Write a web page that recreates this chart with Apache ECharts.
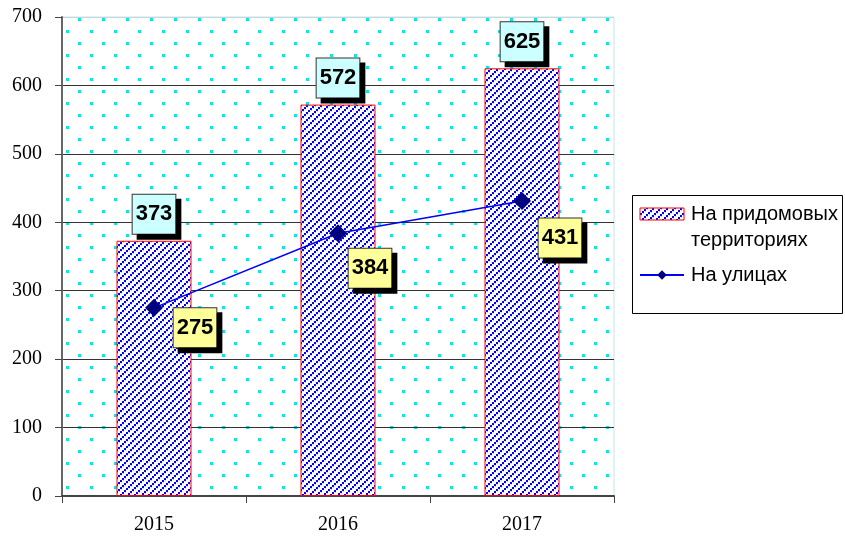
<!DOCTYPE html>
<html>
<head>
<meta charset="utf-8">
<script src="https://cdn.jsdelivr.net/npm/echarts@6/dist/echarts.min.js"></script>
<style>
  html, body { margin: 0; padding: 0; background: #fff; }
  #chart { width: 845px; height: 540px; }
</style>
</head>
<body>
<div id="chart"></div>
<script>
// Years on the horizontal axis
const years = ['2015', '2016', '2017'];
// Count on house-adjacent territories (bars)
const yardValues = [373, 572, 625];
// Count on streets (line)
const streetValues = [275, 384, 431];
// Value axis ticks
const yTicks = [0, 100, 200, 300, 400, 500, 600, 700];

const yardName = 'На придомовых территориях';
const streetName = 'На улицах';

// Dotted cyan fill for the plot area
function makeDotPattern() {
  const c = document.createElement('canvas');
  c.width = 24; c.height = 24;
  const g = c.getContext('2d');
  g.fillStyle = '#fff';
  g.fillRect(0, 0, 24, 24);
  g.fillStyle = '#00E8E8';
  g.fillRect(6, 18, 3, 3);
  g.fillRect(18, 6, 3, 3);
  return { image: c, repeat: 'repeat' };
}

// Blue dotted diagonal hatch for the bars
function makeHatchPattern() {
  const n = 14;
  const c = document.createElement('canvas');
  c.width = n; c.height = n;
  const g = c.getContext('2d');
  g.fillStyle = '#fff';
  g.fillRect(0, 0, n, n);
  for (let s = 0; s <= 2 * n + 7; s += 7) {
    for (let x = 0; x < n; x += 2) {
      const y = s - x - 2;
      if (y > -2 && y < n) {
        g.fillStyle = '#C8C8FF';
        g.fillRect(x + 1, y + 2, 1, 1);
        g.fillStyle = '#0000FF';
        g.fillRect(x, y, 2, 2);
      }
    }
  }
  return { image: c, repeat: 'repeat' };
}

const dots = makeDotPattern();
const hatch = makeHatchPattern();

// Hand-placed offsets of the street-value callouts relative to their points
const streetLabelOffsets = [[41, 20], [32, 35], [38, 37]];

const labelFont = {
  fontFamily: 'Liberation Sans, Arial, sans-serif',
  fontWeight: 'bold',
  fontSize: 22,
  lineHeight: 23,
  color: '#000',
  padding: [8, 3, 8, 3],
  borderColor: '#333',
  borderWidth: 1,
  shadowColor: '#000',
  shadowBlur: 0,
  shadowOffsetX: 5,
  shadowOffsetY: 5
};

const gridLineColors = yTicks.map((t, i) => i === yTicks.length - 1 ? '#C4D6D6' : '#333');

const chart = echarts.init(document.getElementById('chart'), null, { renderer: 'canvas' });

chart.setOption({
  animation: false,
  backgroundColor: '#fff',
  grid: {
    left: 62, top: 17, right: 231, bottom: 44,
    show: true,
    backgroundColor: dots,
    borderColor: '#C4E6E6',
    borderWidth: 1
  },
  graphic: [{
    type: 'rect',
    left: 632, top: 195,
    z: 0,
    shape: { width: 210, height: 118 },
    style: { fill: '#fff', stroke: '#000', lineWidth: 1 }
  }],
  legend: {
    orient: 'vertical',
    left: 639,
    top: 175,
    padding: 0,
    z: 10,
    itemWidth: 44,
    itemHeight: 12,
    itemGap: 9,
    selectedMode: false,
    textStyle: {
      fontFamily: 'Liberation Sans, Arial, sans-serif',
      fontSize: 20,
      lineHeight: 26,
      color: '#000',
      padding: [0, 0, 0, 2]
    },
    data: [
      {
        name: yardName,
        icon: 'rect',
        itemStyle: { color: hatch, borderColor: '#FF0000', borderWidth: 1 }
      },
      { name: streetName }
    ],
    // the first entry wraps onto two lines; a leading blank line keeps
    // its first line level with the swatch
    formatter: function (name) {
      return name === yardName ? ' \nНа придомовых\nтерриториях' : name;
    }
  },
  xAxis: {
    type: 'category',
    data: years,
    boundaryGap: true,
    axisLine: { show: true, lineStyle: { color: '#444', width: 2 } },
    axisTick: { show: true, length: 7, lineStyle: { color: '#444', width: 1 } },
    axisLabel: {
      margin: 19,
      fontFamily: 'Liberation Serif, Times New Roman, serif',
      fontSize: 20,
      color: '#000'
    },
    splitLine: { show: false }
  },
  yAxis: {
    type: 'value',
    min: yTicks[0],
    max: yTicks[yTicks.length - 1],
    interval: 100,
    axisLine: { show: true, lineStyle: { color: '#666', width: 2 } },
    axisTick: { show: true, length: 7, lineStyle: { color: '#444', width: 1 } },
    axisLabel: {
      margin: 20,
      fontFamily: 'Liberation Serif, Times New Roman, serif',
      fontSize: 20,
      color: '#000'
    },
    splitLine: { show: true, lineStyle: { color: gridLineColors, width: 1 } }
  },
  series: [
    {
      name: yardName,
      type: 'bar',
      data: yardValues,
      barWidth: 75,
      itemStyle: { color: hatch, borderColor: '#FF0000', borderWidth: 1 },
      label: Object.assign({
        show: true,
        position: 'top',
        distance: 7,
        backgroundColor: '#CCFFFF'
      }, labelFont),
      z: 2
    },
    {
      name: streetName,
      type: 'line',
      data: streetValues.map((v, i) => ({
        value: v,
        label: { offset: streetLabelOffsets[i] }
      })),
      symbol: 'diamond',
      symbolSize: 18,
      lineStyle: { color: '#0000FF', width: 1.5 },
      itemStyle: { color: '#000080' },
      label: Object.assign({
        show: true,
        position: 'inside',
        backgroundColor: '#FFFF99'
      }, labelFont),
      z: 3
    }
  ]
});
</script>
</body>
</html>
